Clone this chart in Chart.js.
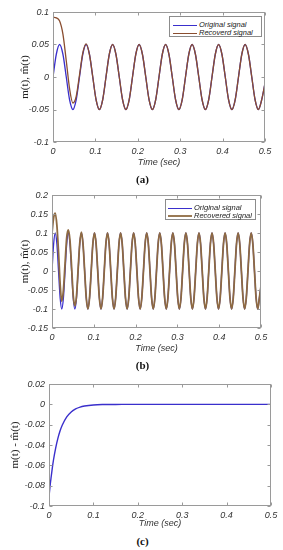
<!DOCTYPE html>
<html>
<head>
<meta charset="utf-8">
<script src="https://cdn.jsdelivr.net/npm/chart.js@4.4.0/dist/chart.umd.js"></script>
<style>
  body { margin: 0; width: 283px; height: 550px; background: #fff; position: relative; overflow: hidden; }
  canvas { position: absolute; left: 0; }
  .cap { position: absolute; left: 0; width: 285px; text-align: center; font: bold 11px "Liberation Serif", "Times New Roman", serif; color: #111; line-height: 12px; }
  .legend { position: absolute; background: #fff; border: 1px solid #8c8c8c; box-sizing: border-box; }
  .legend .row { position: absolute; height: 8px; line-height: 8px; white-space: nowrap; font: italic 7.5px "Liberation Sans", Arial, sans-serif; color: #222; }
  .legend .sw { display: inline-block; width: 24px; vertical-align: middle; margin-right: 2px; }
</style>
</head>
<body>
<canvas id="chartA" width="283" height="170" style="top:0px"></canvas>
<canvas id="chartB" width="283" height="175" style="top:180px"></canvas>
<canvas id="chartC" width="283" height="160" style="top:370px"></canvas>

<div class="legend" style="left:169px; top:16px; width:93px; height:21px;">
  <div class="row" style="left:3px; top:3px;"><span class="sw" style="height:1px; background:#3a2fcc"></span>Original signal</div>
  <div class="row" style="left:3px; top:11px;"><span class="sw" style="height:1px; background:#8a4e30"></span>Recoverd signal</div>
</div>
<div class="legend" style="left:165px; top:199px; width:91px; height:21px;">
  <div class="row" style="left:2px; top:3px;"><span class="sw" style="height:1px; background:#3a2fcc"></span>Original signal</div>
  <div class="row" style="left:2px; top:11px;"><span class="sw" style="height:2px; background:#9a7a55"></span>Recovered signal</div>
</div>

<div class="cap" style="top:173px">(a)</div>
<div class="cap" style="top:359px">(b)</div>
<div class="cap" style="top:535px">(c)</div>

<script>
// ---- data ----

// (a) time samples (sec)
const timeA = [
  0, 0.0078, 0.0156, 0.0234, 0.0313, 0.0391, 0.0469, 0.0547,
  0.0625, 0.0703, 0.0781, 0.0859, 0.0938, 0.1016, 0.1094, 0.1172,
  0.125, 0.1328, 0.1406, 0.1484, 0.1563, 0.1641, 0.1719, 0.1797,
  0.1875, 0.1953, 0.2031, 0.2109, 0.2188, 0.2266, 0.2344, 0.2422,
  0.25, 0.2578, 0.2656, 0.2734, 0.2813, 0.2891, 0.2969, 0.3047,
  0.3125, 0.3203, 0.3281, 0.3359, 0.3438, 0.3516, 0.3594, 0.3672,
  0.375, 0.3828, 0.3906, 0.3984, 0.4063, 0.4141, 0.4219, 0.4297,
  0.4375, 0.4453, 0.4531, 0.4609, 0.4688, 0.4766, 0.4844, 0.4922,
  0.5
];
const origA = [
  0, 0.035, 0.05, 0.035, 0, -0.035, -0.05, -0.035,
  0, 0.035, 0.05, 0.035, 0, -0.035, -0.05, -0.035,
  0, 0.035, 0.05, 0.035, 0, -0.035, -0.05, -0.035,
  0, 0.035, 0.05, 0.035, 0, -0.035, -0.05, -0.035,
  0, 0.035, 0.05, 0.035, 0, -0.035, -0.05, -0.035,
  0, 0.035, 0.05, 0.035, 0, -0.035, -0.05, -0.035,
  0, 0.035, 0.05, 0.035, 0, -0.035, -0.05, -0.035,
  0, 0.035, 0.05, 0.035, 0, -0.035, -0.05, -0.035,
  -0.01
];
// recovered signal differs only at the start, then sits on the original
const recStartA = [0.092, 0.091, 0.086, 0.066, 0.025, -0.018, -0.04, -0.03, 0.003, 0.037, 0.051];

// (b) time samples (sec)
const timeB = [
  0, 0.0039, 0.0078, 0.0117, 0.0156, 0.0195, 0.0234, 0.0273, 0.0313, 0.0352, 0.0391, 0.043, 0.0469, 0.0508, 0.0547, 0.0586,
  0.0625, 0.0664, 0.0703, 0.0742, 0.0781, 0.082, 0.0859, 0.0898, 0.0938, 0.0977, 0.1016, 0.1055, 0.1094, 0.1133, 0.1172, 0.1211,
  0.125, 0.1289, 0.1328, 0.1367, 0.1406, 0.1445, 0.1484, 0.1523, 0.1563, 0.1602, 0.1641, 0.168, 0.1719, 0.1758, 0.1797, 0.1836,
  0.1875, 0.1914, 0.1953, 0.1992, 0.2031, 0.207, 0.2109, 0.2148, 0.2188, 0.2227, 0.2266, 0.2305, 0.2344, 0.2383, 0.2422, 0.2461,
  0.25, 0.2539, 0.2578, 0.2617, 0.2656, 0.2695, 0.2734, 0.2773, 0.2813, 0.2852, 0.2891, 0.293, 0.2969, 0.3008, 0.3047, 0.3086,
  0.3125, 0.3164, 0.3203, 0.3242, 0.3281, 0.332, 0.3359, 0.3398, 0.3438, 0.3477, 0.3516, 0.3555, 0.3594, 0.3633, 0.3672, 0.3711,
  0.375, 0.3789, 0.3828, 0.3867, 0.3906, 0.3945, 0.3984, 0.4023, 0.4063, 0.4102, 0.4141, 0.418, 0.4219, 0.4258, 0.4297, 0.4336,
  0.4375, 0.4414, 0.4453, 0.4492, 0.4531, 0.457, 0.4609, 0.4648, 0.4688, 0.4727, 0.4766, 0.4805, 0.4844, 0.4883, 0.4922, 0.4961,
  0.5
];
const origB = [
  0, 0.071, 0.1, 0.071, 0, -0.071, -0.1, -0.071, 0, 0.071, 0.1, 0.071, 0, -0.071, -0.1, -0.071,
  0, 0.071, 0.1, 0.071, 0, -0.071, -0.1, -0.071, 0, 0.071, 0.1, 0.071, 0, -0.071, -0.1, -0.071,
  0, 0.071, 0.1, 0.071, 0, -0.071, -0.1, -0.071, 0, 0.071, 0.1, 0.071, 0, -0.071, -0.1, -0.071,
  0, 0.071, 0.1, 0.071, 0, -0.071, -0.1, -0.071, 0, 0.071, 0.1, 0.071, 0, -0.071, -0.1, -0.071,
  0, 0.071, 0.1, 0.071, 0, -0.071, -0.1, -0.071, 0, 0.071, 0.1, 0.071, 0, -0.071, -0.1, -0.071,
  0, 0.071, 0.1, 0.071, 0, -0.071, -0.1, -0.071, 0, 0.071, 0.1, 0.071, 0, -0.071, -0.1, -0.071,
  0, 0.071, 0.1, 0.071, 0, -0.071, -0.1, -0.071, 0, 0.071, 0.1, 0.071, 0, -0.071, -0.1, -0.071,
  0, 0.071, 0.1, 0.071, 0, -0.071, -0.1, -0.071, 0, 0.071, 0.1, 0.071, 0, -0.071, -0.1, -0.071,
  -0.04
];
const recStartB = [0.1, 0.14, 0.152, 0.12, 0.05, -0.035, -0.08, -0.05, 0.02, 0.088, 0.108, 0.08, 0.01, -0.065, -0.092, -0.066, 0.004, 0.073, 0.102];

// (c) error m(t) - m^(t)
const timeC = [0, 0.0025, 0.005, 0.0075, 0.01, 0.015, 0.02, 0.025, 0.03, 0.04, 0.05, 0.06, 0.07, 0.08, 0.1, 0.12, 0.15, 0.2, 0.3, 0.4, 0.5];
const errC = [-0.091, -0.08, -0.071, -0.0625, -0.055, -0.043, -0.0335, -0.026, -0.0203, -0.0123, -0.0075, -0.0045, -0.0027, -0.0017, -0.0006, -0.0002, -0.0001, 0, 0, 0, 0];

// tick labels
const xTicks = [0, 0.1, 0.2, 0.3, 0.4, 0.5];
const yTicksA = [-0.1, -0.05, 0, 0.05, 0.1];
const yTicksB = [-0.15, -0.1, -0.05, 0, 0.05, 0.1, 0.15, 0.2];
const yTicksC = [-0.1, -0.08, -0.06, -0.04, -0.02, 0, 0.02];

// ---- styling ----
const BLUE = '#3a2fcc';
const BROWN_A = '#8a4e30';
const BROWN_B = '#8e6a42';
const AXIS = '#9a9a9a';
const TXT = '#333';
const tickFont = { family: '"Liberation Sans", Arial, sans-serif', size: 9, style: 'italic' };
const serifFont = { family: '"Liberation Serif", "Times New Roman", serif', size: 11 };

const toPts = (xs, ys) => xs.map((x, i) => ({ x: x, y: ys[i] }));
const fmt = v => String(+Number(v).toFixed(3));

// MATLAB-like box with inward tick marks
const framePlugin = {
  id: 'frame',
  afterDatasetsDraw(chart) {
    const { ctx, chartArea: a, scales } = chart;
    const l = Math.round(a.left) + 0.5, r = Math.round(a.right) - 0.5;
    const t = Math.round(a.top) + 0.5, b = Math.round(a.bottom) - 0.5;
    ctx.save();
    ctx.strokeStyle = AXIS;
    ctx.lineWidth = 1;
    ctx.strokeRect(l, t, r - l, b - t);
    ctx.beginPath();
    scales.x.ticks.forEach(tk => {
      const px = Math.round(scales.x.getPixelForValue(tk.value)) + 0.5;
      ctx.moveTo(px, b); ctx.lineTo(px, b - 3);
      ctx.moveTo(px, t); ctx.lineTo(px, t + 3);
    });
    scales.y.ticks.forEach(tk => {
      const py = Math.round(scales.y.getPixelForValue(tk.value)) + 0.5;
      ctx.moveTo(l, py); ctx.lineTo(l + 3, py);
      ctx.moveTo(r, py); ctx.lineTo(r - 3, py);
    });
    ctx.stroke();
    ctx.restore();
  }
};

function makeChart(id, p) {
  return new Chart(document.getElementById(id), {
    type: 'line',
    data: { datasets: p.datasets },
    plugins: [framePlugin],
    options: {
      responsive: false,
      animation: false,
      events: [],
      layout: { padding: { left: 0, top: p.top, right: p.right, bottom: 0 } },
      elements: { point: { radius: 0 }, line: { cubicInterpolationMode: 'monotone' } },
      plugins: { legend: { display: false }, tooltip: { enabled: false } },
      scales: {
        x: {
          type: 'linear', min: 0, max: 0.5,
          afterBuildTicks: s => { s.ticks = xTicks.map(v => ({ value: v })); },
          afterFit: s => { s.height = p.xHeight; },
          grid: { display: false, drawTicks: false },
          border: { display: false },
          ticks: { font: tickFont, color: TXT, padding: 4, maxRotation: 0, autoSkip: false, callback: fmt },
          title: { display: true, text: 'Time (sec)', font: tickFont, color: TXT, padding: { top: 0, bottom: p.titleBottom } }
        },
        y: {
          type: 'linear', min: p.yMin, max: p.yMax,
          afterBuildTicks: s => { s.ticks = p.yTicks.map(v => ({ value: v })); },
          afterFit: s => { s.width = p.yWidth; },
          grid: { display: false, drawTicks: false },
          border: { display: false },
          ticks: { font: tickFont, color: TXT, padding: 4, autoSkip: false, callback: fmt },
          title: { display: true, text: p.yTitle, font: serifFont, color: '#222', padding: { top: p.yTitlePad, bottom: 0 } }
        }
      }
    }
  });
}

// recovered drawn on top of original (dataset 0 is drawn last)
makeChart('chartA', {
  top: 12, right: 18, xHeight: 28, titleBottom: 2.6, yWidth: 53, yTitlePad: 18.4,
  yMin: -0.1, yMax: 0.1, yTicks: yTicksA, yTitle: 'm(t), m\u0302(t)',
  datasets: [
    { label: 'Recoverd signal', data: toPts(timeA, recStartA.concat(origA.slice(recStartA.length))), borderColor: BROWN_A, borderWidth: 1.3 },
    { label: 'Original signal', data: toPts(timeA, origA), borderColor: BLUE, borderWidth: 1.3 }
  ]
});

makeChart('chartB', {
  top: 15, right: 22, xHeight: 27, titleBottom: 1.6, yWidth: 52, yTitlePad: 18.4,
  yMin: -0.15, yMax: 0.2, yTicks: yTicksB, yTitle: 'm(t), m\u0302(t)',
  datasets: [
    { label: 'Recovered signal', data: toPts(timeB, recStartB.concat(origB.slice(recStartB.length))), borderColor: BROWN_B, borderWidth: 1.8 },
    { label: 'Original signal', data: toPts(timeB, origB), borderColor: BLUE, borderWidth: 1.3 }
  ]
});

makeChart('chartC', {
  top: 14, right: 12, xHeight: 24, titleBottom: 1.6, yWidth: 49, yTitlePad: 8.4,
  yMin: -0.1, yMax: 0.02, yTicks: yTicksC, yTitle: 'm(t) - m\u0302(t)',
  datasets: [
    { label: 'Error', data: toPts(timeC, errC), borderColor: BLUE, borderWidth: 1.4 }
  ]
});
</script>
</body>
</html>
